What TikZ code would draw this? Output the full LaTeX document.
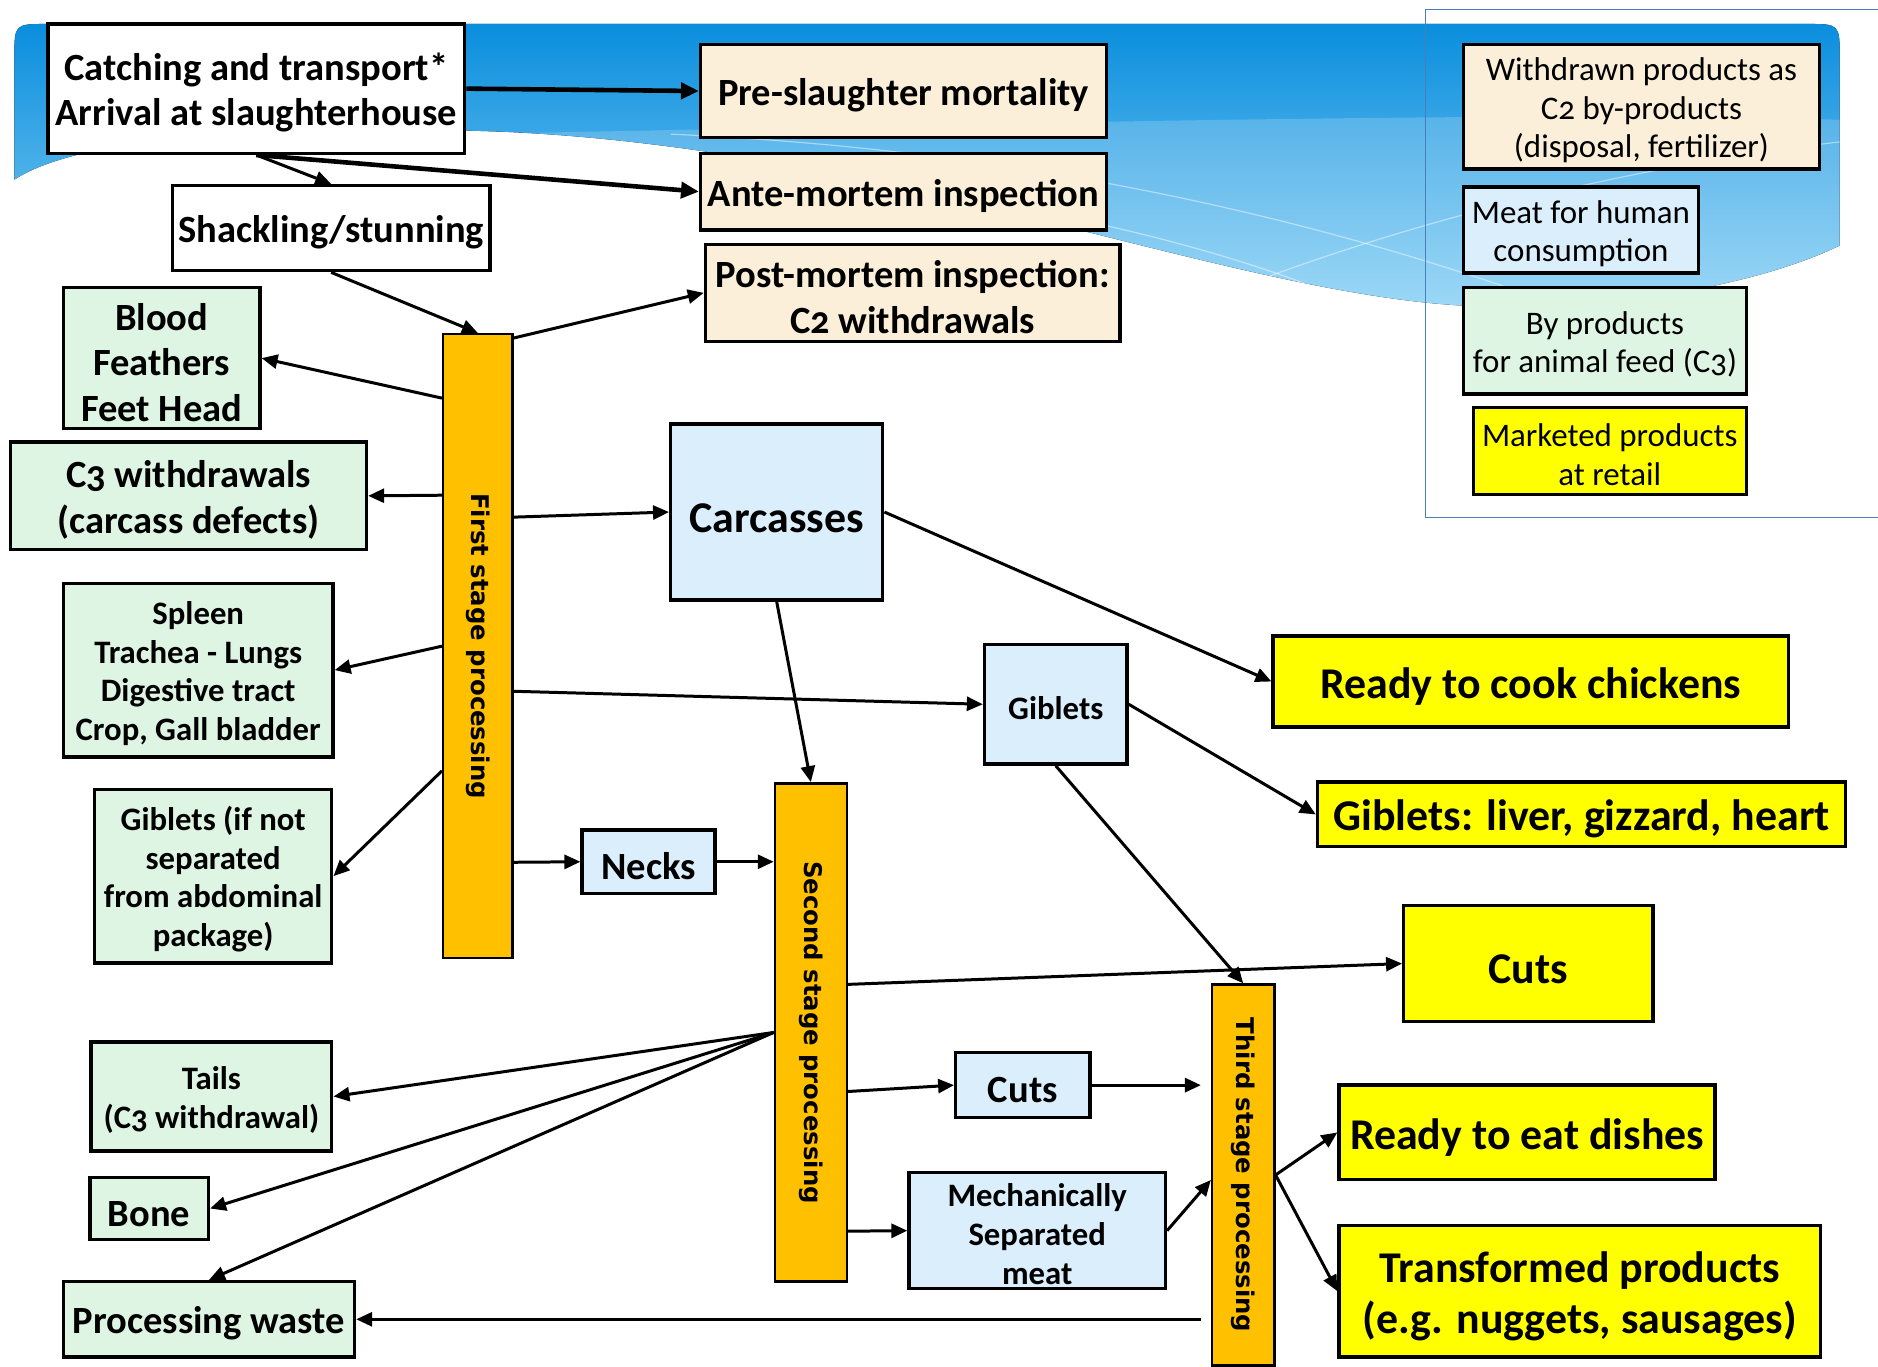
\documentclass[tikz,border=0pt]{standalone}
\usepackage{fontspec}
\setmainfont{Carlito}[Numbers=OldStyle]
\newfontfamily\barfont{DejaVu Sans}
\usetikzlibrary{arrows.meta,calc}
\definecolor{cream}{HTML}{FCEFDA}
\definecolor{mint}{HTML}{DEF5E4}
\definecolor{sky}{HTML}{DAEEFC}
\definecolor{yel}{HTML}{FFFF00}
\definecolor{barorange}{HTML}{FFC000}
\definecolor{wavetop}{HTML}{0A8EDD}
\definecolor{wavebot}{HTML}{86CFF5}
\definecolor{legline}{HTML}{4A7EBB}
\newcommand\mystrut{\rule{0pt}{0.92em}}
\tikzset{
  box/.style={draw, line width=1.7pt, inner sep=0pt, align=center,
    font=\bfseries\fontsize{19.3}{22.8}\selectfont,
    execute at begin node={\mystrut}},
  fsmall/.style={font=\bfseries\fontsize{16.4}{19.4}\selectfont},
  fbig/.style={font=\bfseries\fontsize{22}{25.5}\selectfont},
  legbox/.style={draw, line width=1.7pt, inner sep=0pt, align=center,
    font=\fontsize{16.5}{19.4}\selectfont,
    execute at begin node={\mystrut}},
  barbox/.style={draw, line width=1.2pt, fill=barorange, inner sep=0pt},
  barlabel/.style={inner sep=0pt, font=\barfont\bfseries\fontsize{12.2}{14}\selectfont},
  arr/.style={-{Triangle[length=8pt,width=7pt]}, line width=1.5pt},
  thickarr/.style={-{Triangle[length=9pt,width=8pt]}, line width=2.3pt},
  streak/.style={white, opacity=0.45, line width=0.6pt}
}
\def\wavepath{(12,150) -- (12,48) .. controls (12,20) .. (40,20) -- (1508,20)
  .. controls (1536,20) .. (1536,48) -- (1536,205)
  .. controls (1480,232) and (1380,256) .. (1250,256)
  .. controls (1050,256) and (760,125) .. (420,110)
  .. controls (200,102) and (60,118) .. (12,150) -- cycle}
\begin{document}
\begin{tikzpicture}[x=0.6pt,y=-0.6pt]
\useasboundingbox (0,0) rectangle (1568,1141);
% background wave
\fill[top color=wavetop, bottom color=wavebot] \wavepath;
\begin{scope}
  \clip \wavepath;
  \fill[white, opacity=0.18]
    (440,111) .. controls (800,104) and (1300,92) .. (1536,100) -- (1536,260)
    -- (440,260) -- cycle;
  \draw[streak] (560,112) .. controls (850,125) and (1100,180) .. (1320,262);
  \draw[streak] (980,262) .. controls (1150,190) and (1350,140) .. (1540,118);
  \draw[streak] (700,150) .. controls (900,175) and (1050,215) .. (1150,262);
\end{scope}
% legend frame
\draw[legline, line width=0.7pt] (1575,8) -- (1190,8) -- (1190,432) -- (1575,432);

% top boxes
\node[box, fill=white, minimum width=208.8pt, minimum height=64.8pt] (catch) at (214,74) {\mystrut Catching and transport*\\Arrival at slaughterhouse};
\node[box, fill=cream, minimum width=203.4pt, minimum height=46.8pt] (pre) at (754.5,76) {Pre-slaughter mortality};
\node[box, fill=cream, minimum width=203.4pt, minimum height=38.4pt] (ante) at (754.5,160) {Ante-mortem inspection};
\node[box, fill=cream, minimum width=207.6pt, minimum height=48.6pt] (post) at (762,244.5) {\mystrut Post-mortem inspection:\\C2 withdrawals};
\node[box, fill=white, minimum width=159pt, minimum height=42.6pt] (shack) at (276.5,190.5) {Shackling/stunning};

% left boxes
\node[box, fill=mint, minimum width=98.4pt, minimum height=70.8pt] (blood) at (135,299) {\mystrut Blood\\Feathers\\Feet Head};
\node[box, fill=mint, minimum width=178.2pt, minimum height=54pt] (cthree) at (157.5,414) {\mystrut C3 withdrawals\\(carcass defects)};
\node[box, fsmall, fill=mint, minimum width=135pt, minimum height=87pt] (spleen) at (165.5,559.5) {\mystrut Spleen\\Trachea - Lungs\\Digestive tract\\Crop, Gall bladder};
\node[box, fsmall, fill=mint, minimum width=118.8pt, minimum height=87pt] (gibnot) at (178,731.5) {\mystrut Giblets (if not\\separated\\from abdominal\\package)};
\node[box, fsmall, fill=mint, minimum width=120.6pt, minimum height=54.6pt] (tails) at (176.5,915.5) {\mystrut Tails\\(C3 withdrawal)};
\node[box, fill=mint, minimum width=59.4pt, minimum height=31.2pt] (bone) at (124.5,1009) {Bone};
\node[box, fill=mint, minimum width=145.8pt, minimum height=37.8pt] (waste) at (174.5,1101.5) {Processing waste};

% bars
\node[barbox, minimum width=34.8pt, minimum height=312.6pt] (first) at (399,539.5) {};
\node[barlabel, rotate=-90] (firstlbl) at (first.center) {First stage processing};
\node[barbox, minimum width=36pt, minimum height=249.6pt] (second) at (677,862) {};
\node[barlabel, rotate=-90] (secondlbl) at (second.center) {Second stage processing};
\node[barbox, minimum width=31.2pt, minimum height=190.8pt] (third) at (1038,981) {};
\node[barlabel, rotate=-90] (thirdlbl) at (third.center) {Third stage processing};

% middle boxes
\node[box, fbig, fill=sky, minimum width=106.2pt, minimum height=88.2pt] (carc) at (648.5,427.5) {Carcasses};
\node[box, fsmall, fill=sky, minimum width=71.4pt, minimum height=60pt] (gib) at (881.5,588) {Giblets};
\node[box, fill=sky, minimum width=66.6pt, minimum height=31.8pt] (necks) at (541.5,719.5) {Necks};
\node[box, fill=sky, minimum width=67.2pt, minimum height=32.4pt] (cutsb) at (854,906) {Cuts};
\node[box, fsmall, fill=sky, minimum width=128.4pt, minimum height=58.2pt] (msm) at (866,1027.5) {\mystrut Mechanically\\Separated\\meat};

% right boxes
\node[box, fbig, fill=yel, minimum width=258pt, minimum height=45.6pt] (rtc) at (1278,569) {Ready to cook chickens};
\node[box, fbig, fill=yel, minimum width=264.6pt, minimum height=32.4pt] (gibliver) at (1320.5,680) {Giblets: liver, gizzard, heart};
\node[box, fbig, fill=yel, minimum width=124.8pt, minimum height=58.2pt] (cutsy) at (1276,804.5) {Cuts};
\node[box, fbig, fill=yel, minimum width=188.4pt, minimum height=47.4pt] (rte) at (1275,945.5) {Ready to eat dishes};
\node[box, fbig, fill=yel, minimum width=241.2pt, minimum height=66pt] (trans) at (1319,1078) {\mystrut Transformed products\\(e.g. nuggets, sausages)};

% legend
\node[legbox, fill=cream, minimum width=178.2pt, minimum height=62.4pt] (leg1) at (1370.5,89) {\mystrut Withdrawn products as\\C2 by-products\\(disposal, fertilizer)};
\node[legbox, fill=sky, minimum width=117.6pt, minimum height=43.2pt] (leg2) at (1320,192) {\mystrut Meat for human\\consumption};
\node[legbox, fill=mint, minimum width=141.6pt, minimum height=53.4pt] (leg3) at (1340,284.5) {\mystrut By products\\for animal feed (C3)};
\node[legbox, fill=yel, minimum width=136.8pt, minimum height=43.8pt] (leg4) at (1344,376.5) {\mystrut Marketed products\\at retail};

% connectors
\draw[thickarr] (catch.east) -- (pre.west);
\draw[thickarr] (catch.south) -- (ante.west);
\draw[arr] (catch.south) -- (shack.north);
\draw[arr] (shack.south) -- (first.north);
\draw[arr] ($(first.north east)!0.008!(first.south east)$) -- (post.west);
\draw[arr] ($(first.north west)!0.104!(first.south west)$) -- (blood.east);
\draw[arr] ($(first.north west)!0.259!(first.south west)$) -- (cthree.east);
\draw[arr] (first.west) -- (spleen.east);
\draw[arr] ($(first.north west)!0.699!(first.south west)$) -- (gibnot.east);
\draw[arr] ($(first.north east)!0.294!(first.south east)$) -- (carc.west);
\draw[arr] ($(first.north east)!0.572!(first.south east)$) -- (gib.west);
\draw[arr] ($(first.north east)!0.845!(first.south east)$) -- (necks.west);
\draw[arr] (necks.east) -- (necks.east -| second.west);
\draw[arr] (carc.south) -- (second.north);
\draw[arr] (carc.east) -- (rtc.west);
\draw[arr] (gib.east) -- (gibliver.west);
\draw[arr] (gib.south) -- (third.north);
\draw[arr] ($(second.north east)!0.404!(second.south east)$) -- (cutsy.west);
\draw[arr] ($(second.north east)!0.618!(second.south east)$) -- (cutsb.west);
\draw[arr, shorten >=5pt] (cutsb.east) -- (cutsb.east -| third.west);
\draw[arr] ($(second.north east)!0.897!(second.south east)$) -- (msm.west);
\draw[arr] (msm.east) -- ($(third.north west)!0.513!(third.south west)$);
\draw[arr] (second.west) -- (tails.east);
\draw[arr] (second.west) -- (bone.east);
\draw[arr] (second.west) -- (waste.north);
\draw[arr, shorten <=5pt] (waste.east -| third.west) -- (waste.east);
\draw[arr] (third.east) -- (rte.west);
\draw[arr] (third.east) -- (trans.west);
\end{tikzpicture}
\end{document}
